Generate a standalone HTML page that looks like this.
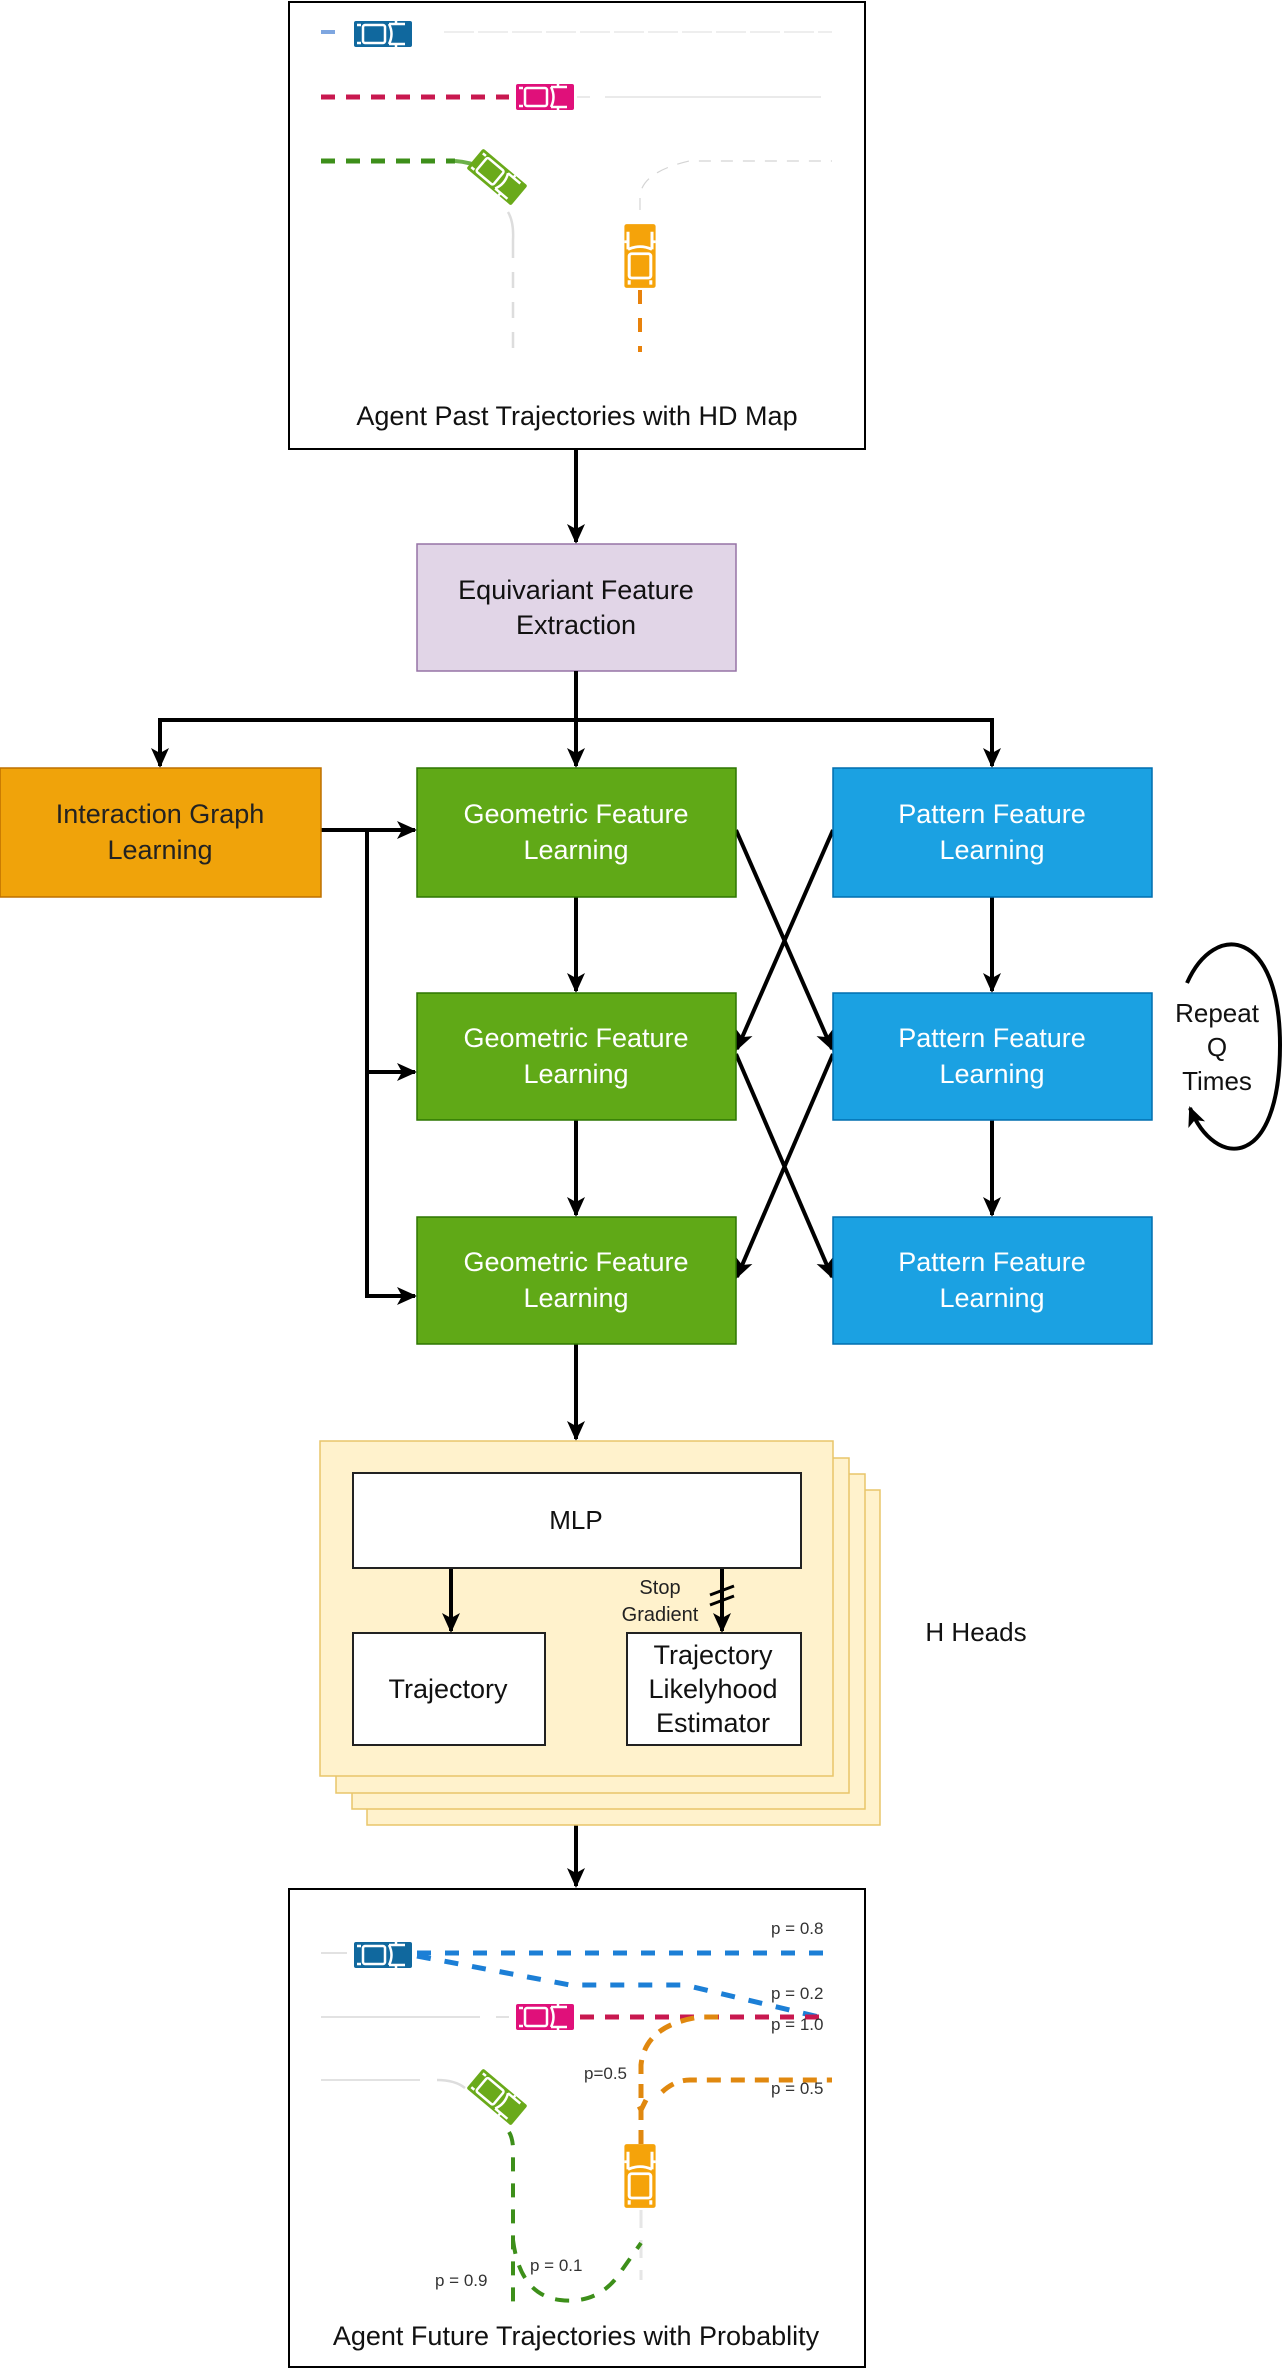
<!DOCTYPE html>
<html><head><meta charset="utf-8"><style>
html,body{margin:0;padding:0;background:#fff}
svg{display:block}
text{font-family:"Liberation Sans",Arial,sans-serif}
</style></head><body>
<svg width="1284" height="2370" viewBox="0 0 1284 2370" xmlns="http://www.w3.org/2000/svg">
<defs>
<marker id="ahb" markerWidth="20" markerHeight="20" refX="18" refY="10" orient="auto" markerUnits="userSpaceOnUse" viewBox="0 0 20 20">
<path d="M0,1 L20,10 L0,19 L5,10 Z" fill="#000"/></marker>
<g id="car">
<rect x="-29" y="-13" width="58" height="26" rx="2"/>
<rect x="-20" y="-9" width="22" height="18" rx="2" fill="none" stroke="#fff" stroke-width="2.5"/>
<path d="M-26,-9 H-22 M-26,9 H-22 M6,-10 Q11,0 6,10 M6,-10 H22 M6,10 H22 M13,-10 V-13 M13,10 V13" fill="none" stroke="#fff" stroke-width="2.5"/>
</g>
</defs>

<!-- Top box -->
<rect x="289" y="2" width="576" height="447" fill="#fff" stroke="#000" stroke-width="2"/>
<g fill="none" stroke-linecap="butt">
<path d="M444,32 H832" stroke="#e4e4e4" stroke-width="1.2" stroke-dasharray="30 4"/>
<path d="M321,32 H335" stroke="#7ea6e0" stroke-width="4"/>
<path d="M321,97 H509" stroke="#c8184f" stroke-width="5" stroke-dasharray="14 11"/>
<path d="M577,97 H590 M605,97 H821" stroke="#e4e4e4" stroke-width="1.5"/>
<path d="M321,161 H455" stroke="#3d8f1a" stroke-width="5" stroke-dasharray="14 11"/>
<path d="M455,161 Q470,162 482,168" stroke="#6bb04a" stroke-width="4"/>
<path d="M508,212 Q514,222 513,240 V352" stroke="#ddd" stroke-width="2.5"/>
<path d="M513,250 V352" stroke="#fff" stroke-width="3" stroke-dasharray="0 8 14 8"/>
<path d="M640,210 V196 Q642,172 689,161 H832" stroke="#d4d4d4" stroke-width="1.2" stroke-dasharray="12 10"/>
<path d="M640,290 V352" stroke="#e8820c" stroke-width="4" stroke-dasharray="14 14"/>
</g>
<use href="#car" fill="#10689e" transform="translate(383,34)"/>
<use href="#car" fill="#e0107a" transform="translate(545,97)"/>
<use href="#car" fill="#6aaa1a" transform="translate(497,177) rotate(40)"/>
<use href="#car" fill="#f5a30a" transform="translate(640,256) rotate(-90) scale(1.1,1.2)"/>
<text x="577" y="425" font-size="27" text-anchor="middle" fill="#111">Agent Past Trajectories with HD Map</text>

<g stroke="#000" stroke-width="4" fill="none">
<path d="M576,449 V542" marker-end="url(#ahb)"/>
</g>
<rect x="417" y="544" width="319" height="127" fill="#e1d5e7" stroke="#9673a6" stroke-width="1.5"/>
<text x="576" y="599" font-size="27" text-anchor="middle" fill="#111">Equivariant Feature</text>
<text x="576" y="634" font-size="27" text-anchor="middle" fill="#111">Extraction</text>

<g stroke="#000" stroke-width="4" fill="none">
<path d="M576,671 V766" marker-end="url(#ahb)"/>
<path d="M160,720 H992"/>
<path d="M160,718 V766" marker-end="url(#ahb)"/>
<path d="M992,718 V766" marker-end="url(#ahb)"/>
<path d="M321,830 H415" marker-end="url(#ahb)"/>
<path d="M367,830 V1296"/>
<path d="M365,1072 H415" marker-end="url(#ahb)"/>
<path d="M365,1296 H415" marker-end="url(#ahb)"/>
<path d="M576,897 V991" marker-end="url(#ahb)"/>
<path d="M576,1120 V1215" marker-end="url(#ahb)"/>
<path d="M992,897 V991" marker-end="url(#ahb)"/>
<path d="M992,1120 V1215" marker-end="url(#ahb)"/>
<path d="M736,830 L832,1049" marker-end="url(#ahb)"/>
<path d="M833,830 L737,1049" marker-end="url(#ahb)"/>
<path d="M736,1054 L832,1277" marker-end="url(#ahb)"/>
<path d="M833,1054 L737,1277" marker-end="url(#ahb)"/>
<path d="M576,1344 V1439" marker-end="url(#ahb)"/>
<path d="M576,1825 V1886" marker-end="url(#ahb)"/>
<path d="M1187,983 C1215,920 1280,930 1280,1045 C1280,1170 1215,1170 1190,1108" marker-end="url(#ahb)"/>
</g>

<rect x="0" y="768" width="321" height="129" fill="#f0a30a" stroke="#BD7000" stroke-width="1.5"/>
<text x="160" y="823" font-size="27" text-anchor="middle" fill="#222">Interaction Graph</text>
<text x="160" y="859" font-size="27" text-anchor="middle" fill="#222">Learning</text>

<g font-size="27" text-anchor="middle" fill="#fff">
<rect x="417" y="768" width="319" height="129" fill="#60a917" stroke="#2D7600" stroke-width="1.5"/>
<text x="576" y="823">Geometric Feature</text><text x="576" y="859">Learning</text>
<rect x="417" y="993" width="319" height="127" fill="#60a917" stroke="#2D7600" stroke-width="1.5"/>
<text x="576" y="1047">Geometric Feature</text><text x="576" y="1083">Learning</text>
<rect x="417" y="1217" width="319" height="127" fill="#60a917" stroke="#2D7600" stroke-width="1.5"/>
<text x="576" y="1271">Geometric Feature</text><text x="576" y="1307">Learning</text>
<rect x="833" y="768" width="319" height="129" fill="#1ba1e2" stroke="#006EAF" stroke-width="1.5"/>
<text x="992" y="823">Pattern Feature</text><text x="992" y="859">Learning</text>
<rect x="833" y="993" width="319" height="127" fill="#1ba1e2" stroke="#006EAF" stroke-width="1.5"/>
<text x="992" y="1047">Pattern Feature</text><text x="992" y="1083">Learning</text>
<rect x="833" y="1217" width="319" height="127" fill="#1ba1e2" stroke="#006EAF" stroke-width="1.5"/>
<text x="992" y="1271">Pattern Feature</text><text x="992" y="1307">Learning</text>
</g>
<g font-size="26" text-anchor="middle" fill="#111">
<text x="1217" y="1022">Repeat</text><text x="1217" y="1056">Q</text><text x="1217" y="1090">Times</text>
</g>

<g fill="#fff2cc" stroke="#e8c56a" stroke-width="1.5">
<rect x="367" y="1490" width="513" height="335"/>
<rect x="352" y="1474" width="513" height="335"/>
<rect x="336" y="1458" width="513" height="335"/>
<rect x="320" y="1441" width="513" height="335"/>
</g>
<g fill="#fff" stroke="#222" stroke-width="2">
<rect x="353" y="1473" width="448" height="95"/>
<rect x="353" y="1633" width="192" height="112"/>
<rect x="627" y="1633" width="174" height="112"/>
</g>
<g stroke="#000" stroke-width="4" fill="none">
<path d="M451,1569 V1631" marker-end="url(#ahb)"/>
<path d="M722,1569 V1631" marker-end="url(#ahb)"/>
<path d="M710,1595 L734,1586 M710,1605 L734,1596" stroke-width="3"/>
</g>
<text x="576" y="1529" font-size="26" text-anchor="middle" fill="#111">MLP</text>
<text x="448" y="1698" font-size="27" text-anchor="middle" fill="#111">Trajectory</text>
<text x="713" y="1664" font-size="27" text-anchor="middle" fill="#111">Trajectory</text>
<text x="713" y="1698" font-size="27" text-anchor="middle" fill="#111">Likelyhood</text>
<text x="713" y="1732" font-size="27" text-anchor="middle" fill="#111">Estimator</text>
<text x="660" y="1594" font-size="20" text-anchor="middle" fill="#222">Stop</text>
<text x="660" y="1621" font-size="20" text-anchor="middle" fill="#222">Gradient</text>
<text x="976" y="1641" font-size="26" text-anchor="middle" fill="#111">H Heads</text>

<rect x="289" y="1889" width="576" height="478" fill="#fff" stroke="#000" stroke-width="2"/>
<g fill="none">
<path d="M321,1953 H347 M496,2017 H509 M321,2017 H480 M321,2080 H420" stroke="#e2e2e2" stroke-width="2"/>
<path d="M437,2080 Q455,2080 465,2088" stroke="#ddd" stroke-width="2.5"/>
<path d="M417,1953 H832" stroke="#1c7fd6" stroke-width="5" stroke-dasharray="14 14"/>
<path d="M417,1956 L570,1985 H685 L819,2017" stroke="#1c7fd6" stroke-width="5" stroke-dasharray="14 14"/>
<path d="M580,2017 H820" stroke="#c8184f" stroke-width="5" stroke-dasharray="14 11"/>
<path d="M641,2144 V2110 L636,2100 M641,2110 L646,2100 M641,2098 V2065 Q645,2025 700,2017 H720" stroke="#e0880f" stroke-width="5" stroke-dasharray="14 10"/>
<path d="M662,2092 Q675,2080 690,2080 H832" stroke="#e0880f" stroke-width="5" stroke-dasharray="14 10"/>
<path d="M641,2210 V2280" stroke="#e6e6e6" stroke-width="3" stroke-dasharray="18 12"/>
<path d="M509,2132 Q514,2140 513,2158 V2302" stroke="#3d8f1a" stroke-width="4" stroke-dasharray="14 12"/>
<path d="M513,2240 Q520,2295 560,2300 Q600,2305 622,2270 L641,2243" stroke="#3d8f1a" stroke-width="4" stroke-dasharray="14 12"/>
</g>
<use href="#car" fill="#10689e" transform="translate(383,1955)"/>
<use href="#car" fill="#e0107a" transform="translate(545,2017)"/>
<use href="#car" fill="#6aaa1a" transform="translate(497,2097) rotate(40)"/>
<use href="#car" fill="#f5a30a" transform="translate(640,2176) rotate(-90) scale(1.1,1.2)"/>
<g font-size="17" fill="#333">
<text x="771" y="1934">p = 0.8</text>
<text x="771" y="1999">p = 0.2</text>
<text x="771" y="2030">p = 1.0</text>
<text x="584" y="2079">p=0.5</text>
<text x="771" y="2094">p = 0.5</text>
<text x="530" y="2271">p = 0.1</text>
<text x="435" y="2286">p = 0.9</text>
</g>
<text x="576" y="2345" font-size="27" text-anchor="middle" fill="#111">Agent Future Trajectories with Probablity</text>
</svg>
</body></html>
